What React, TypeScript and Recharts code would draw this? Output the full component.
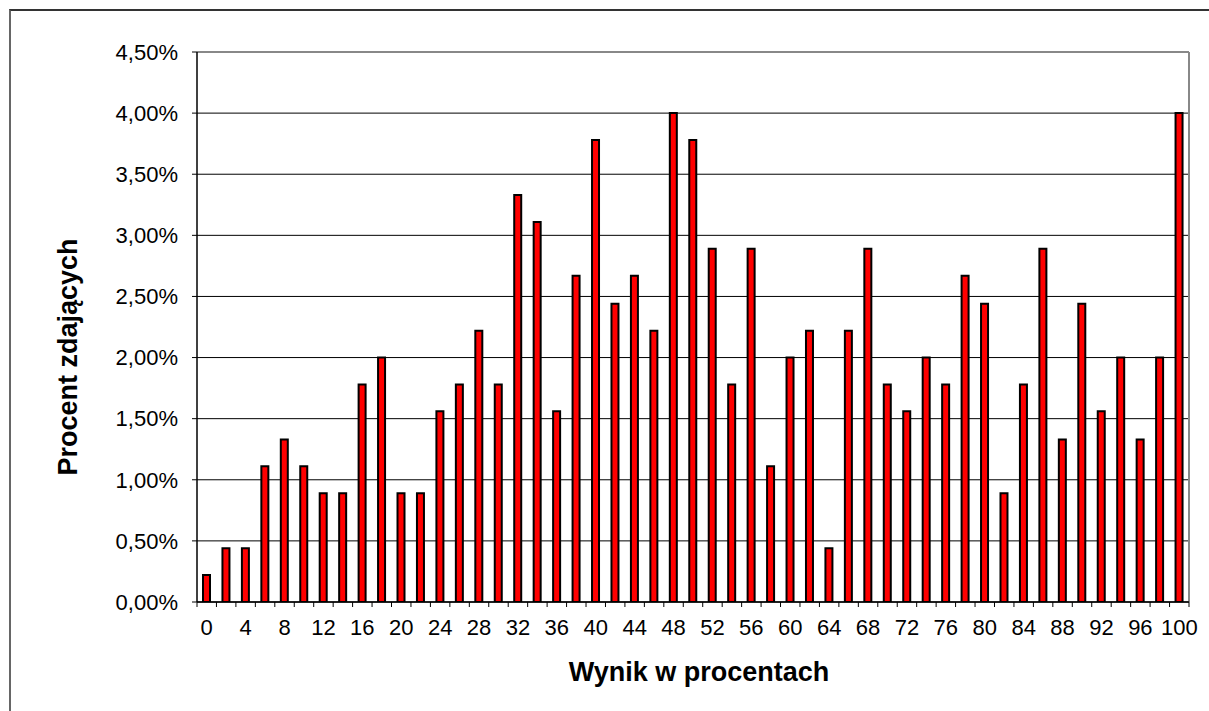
import { BarChart, Bar, XAxis, YAxis, CartesianGrid, ReferenceLine, Label } from 'recharts';

const scores = [
  0, 2, 4, 6, 8, 10, 12, 14, 16, 18, 20, 22, 24, 26, 28, 30, 32, 34, 36, 38, 40, 42, 44, 46, 48, 50,
  52, 54, 56, 58, 60, 62, 64, 66, 68, 70, 72, 74, 76, 78, 80, 82, 84, 86, 88, 90, 92, 94, 96, 98, 100,
];

// procent zdających dla każdego wyniku
const shares = [
  0.22, 0.44, 0.44, 1.11, 1.33, 1.11, 0.89, 0.89, 1.78, 2.0, 0.89, 0.89, 1.56, 1.78, 2.22, 1.78, 3.33,
  3.11, 1.56, 2.67, 3.78, 2.44, 2.67, 2.22, 4.0, 3.78, 2.89, 1.78, 2.89, 1.11, 2.0, 2.22, 0.44, 2.22,
  2.89, 1.78, 1.56, 2.0, 1.78, 2.67, 2.44, 0.89, 1.78, 2.89, 1.33, 2.44, 1.56, 2.0, 1.33, 2.0, 4.0,
];

const yTicks = [0, 0.5, 1, 1.5, 2, 2.5, 3, 3.5, 4, 4.5];

// granice kategorii (kreski na osi X)
const edgeTicks = [
  -1, 1, 3, 5, 7, 9, 11, 13, 15, 17, 19, 21, 23, 25, 27, 29, 31, 33, 35, 37, 39, 41, 43, 45, 47, 49, 51,
  53, 55, 57, 59, 61, 63, 65, 67, 69, 71, 73, 75, 77, 79, 81, 83, 85, 87, 89, 91, 93, 95, 97, 99, 101,
];

const data = scores.map((s, i) => ({ score: String(s), pos: s, share: shares[i] }));

const FONT = '"Liberation Sans", Arial, sans-serif';

const formatPct = (v: number) => v.toFixed(2).replace('.', ',') + '%';

// oś 0 = kreski na granicach kategorii, oś 1 = etykiety wyników
const EDGE_AXIS = 0;
const CAT_AXIS = 1;

export default function App() {
  return (
    <div style={{ position: 'absolute', left: 0, top: 0, width: 1209, height: 711, background: '#fff', fontFamily: FONT, overflow: 'hidden' }}>
      <div
        style={{
          position: 'absolute',
          left: 9,
          top: 9,
          width: 1300,
          height: 800,
          borderTop: '2px solid #333',
          borderLeft: '2px solid #666',
        }}
      />
      <div style={{ position: 'absolute', left: 0, top: 0 }}>
        <BarChart
          width={1209}
          height={711}
          data={data}
          margin={{ top: 52, right: 20, left: 0, bottom: 68 }}
          barCategoryGap={0}
        >
          <CartesianGrid vertical={false} stroke="#000" strokeWidth={1} xAxisId={EDGE_AXIS} />
          <XAxis
            xAxisId={CAT_AXIS}
            dataKey="score"
            interval={1}
            height={40}
            axisLine={false}
            tickLine={false}
            tickSize={0}
            tickMargin={16}
            tick={{ fontSize: 22, fill: '#000', fontFamily: FONT }}
          >
            <Label
              content={() => (
                <text x={699} y={681} textAnchor="middle" fontSize={27} fontWeight="bold" fontFamily={FONT} fill="#000">
                  Wynik w procentach
                </text>
              )}
            />
          </XAxis>
          <XAxis
            xAxisId={EDGE_AXIS}
            type="number"
            dataKey="pos"
            domain={[-1, 101]}
            ticks={edgeTicks}
            interval={0}
            tickFormatter={() => ''}
            axisLine={{ stroke: '#000', strokeWidth: 1.5 }}
            tickLine={{ stroke: '#000' }}
            tickSize={5}
            height={1}
            allowDataOverflow
          />
          <YAxis
            width={197}
            domain={[0, 4.5]}
            ticks={yTicks}
            tickFormatter={formatPct}
            axisLine={{ stroke: '#000', strokeWidth: 1.5 }}
            tickLine={{ stroke: '#000' }}
            tickSize={5}
            tickMargin={14}
            tick={{ fontSize: 22, fill: '#000', fontFamily: FONT }}
            allowDataOverflow
          >
            <Label
              content={() => (
                <text
                  x={77}
                  y={357}
                  transform="rotate(-90 77 357)"
                  textAnchor="middle"
                  fontSize={27}
                  fontWeight="bold"
                  fontFamily={FONT}
                  fill="#000"
                >
                  Procent zdających
                </text>
              )}
            />
          </YAxis>
          <ReferenceLine xAxisId={EDGE_AXIS} y={4.5} stroke="#888" strokeWidth={2} />
          <ReferenceLine xAxisId={EDGE_AXIS} x={101} stroke="#888" strokeWidth={2} />
          <Bar
            xAxisId={CAT_AXIS}
            dataKey="share"
            fill="#FF0000"
            stroke="#000"
            strokeWidth={2}
            barSize={7}
            isAnimationActive={false}
          />
        </BarChart>
      </div>
    </div>
  );
}
